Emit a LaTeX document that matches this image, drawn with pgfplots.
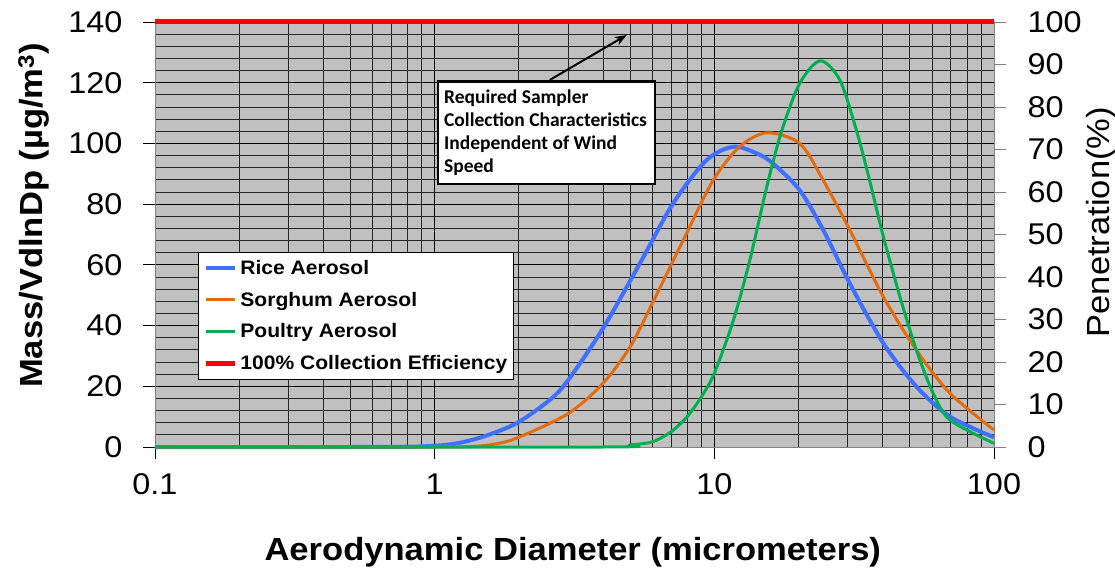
\documentclass[border=0pt]{standalone}
\usepackage{fontspec}
\setmainfont{Liberation Sans}[FakeStretch=1.08]
\newfontfamily\calibri{Carlito}
\usepackage{pgfplots}
\pgfplotsset{compat=1.18}
\usetikzlibrary{arrows.meta}

\definecolor{bggray}{RGB}{192,192,192}
\definecolor{riceblue}{RGB}{64,112,255}
\definecolor{sorgorange}{RGB}{228,108,10}
\definecolor{poulgreen}{RGB}{0,176,80}

\begin{document}
\begin{tikzpicture}
\path[use as bounding box] (-155pt,-120pt) rectangle (960pt,447pt);

\begin{axis}[
    at={(0pt,0pt)}, anchor=south west,
    scale only axis, width=839pt, height=425pt,
    xmode=log, xmin=0.1, xmax=100,
    ymin=0, ymax=140,
    xtick={0.1,1,10,100}, xticklabels={0.1,1,10,100},
    minor xtick={0.2,0.3,0.4,0.5,0.6,0.7,0.8,0.9,2,3,4,5,6,7,8,9,20,30,40,50,60,70,80,90},
    ytick={0,20,...,140},
    minor ytick={0,4,...,140},
    xtick pos=bottom, ytick pos=left,
    tick align=outside,
    major tick length=12pt, minor tick length=0pt,
    tick style={black, line width=0.8pt},
    grid=both,
    major grid style={black, line width=0.9pt},
    minor grid style={black!85, line width=0.8pt},
    axis background/.style={fill=bggray},
    axis line style={gray, line width=0.8pt},
    clip=false,
    /pgf/number format/assume math mode=true,
    ticklabel style={font=\fontsize{30}{32}\selectfont},
    xticklabel style={yshift=-11pt},
    yticklabel style={xshift=-17pt},
    xlabel={Aerodynamic Diameter (micrometers)},
    ylabel={Mass/VdlnDp (µg/m\textsuperscript{3})},
    label style={font=\bfseries\fontsize{32}{34}\selectfont},
    xlabel style={at={(axis description cs:0.498,-0.266)}, anchor=base},
    ylabel style={at={(axis description cs:-0.1335,0.545)}, anchor=base},
    legend image code/.code={\draw[#1] (0pt,0pt) -- (29pt,0pt);},
    legend style={
        at={(axis description cs:0.0513,0.4588)}, anchor=north west,
        draw=black, line width=0.8pt, fill=white,
        inner xsep=5pt, inner ysep=7pt,
        row sep=14pt, column sep=2pt,
        nodes={inner sep=1pt},
        font=\bfseries\fontsize{19.5}{21}\selectfont,
        cells={anchor=west},
    },
]

\addplot[riceblue, line width=4pt, smooth] coordinates {
    (0.1,0) (0.5,0) (0.8,0.1) (1.0,0.4) (1.2,1.2) (1.49,3.4) (1.96,7.8)
    (2.58,15.5) (3,22.0) (4,39.1) (5.42,60.5) (7.13,80.3)
    (9.38,94.5) (11.7,98.9) (14.2,96.7) (16.2,93.4) (20.2,84.6) (24.5,71.5)
    (30.5,53.9) (40.2,34.2) (52.8,19.9) (69.6,10.0) (100,3.2)
};
\addlegendentry{Rice Aerosol}

\addplot[sorgorange, line width=3pt, smooth] coordinates {
    (0.1,0) (1.0,0) (1.3,0.1) (1.6,0.8) (1.96,2.9) (3,11.0) (4,21.0)
    (5,33.0) (6,47.3) (7.96,70.4) (9.91,87.9) (12.3,98.9)
    (15.4,103.5) (20.2,100.0) (24.5,87.9) (30.5,71.5) (40.2,49.5) (52.8,31.9)
    (69.6,17.7) (100,5.6)
};
\addlegendentry{Sorghum Aerosol}

\addplot[poulgreen, line width=3pt, smooth] coordinates {
    (0.1,0) (4.0,0) (5,0.7) (6,1.7) (7,5.0) (8,10.0) (9,16.6) (10,24.3)
    (11.7,41.8) (13.4,61.6) (15.4,85.7) (17.4,104.0) (20.2,119.8)
    (23.9,127.2) (28.1,120.9) (32.2,104.4) (35.9,87.9) (40.2,69.3) (46.1,49.5)
    (52.8,31.9) (60.6,17.7) (69.6,8.9) (100,1.2)
};
\addlegendentry{Poultry Aerosol}

\addplot[red, line width=5pt] coordinates {(0.1,140) (100,140)};
\addlegendentry{100\% Collection Efficiency}

\draw[black, line width=2pt, -{Stealth[length=12pt,width=9pt]}]
    (axis cs:2.58,120.9) -- (axis cs:4.86,135.7);
\node[draw=black, line width=2.5pt, fill=white, anchor=north west,
      align=flush left, text width=205pt, inner xsep=6pt, inner ysep=9pt,
      font=\calibri\bfseries\fontsize{19.5}{22.7}\selectfont]
    at (axis description cs:0.336,0.8635)
    {Required Sampler\\Collection Characteristics\\Independent of Wind\\Speed};
\end{axis}

\begin{axis}[
    at={(0pt,0pt)}, anchor=south west,
    scale only axis, width=839pt, height=425pt,
    xmode=log, xmin=0.1, xmax=100,
    ymin=0, ymax=100,
    axis x line=none, axis y line*=right,
    ytick={0,10,...,100},
    tick align=outside, major tick length=12pt,
    tick style={gray, line width=0.8pt},
    axis line style={gray, line width=0.8pt},
    /pgf/number format/assume math mode=true,
    ticklabel style={font=\fontsize{30}{32}\selectfont},
    yticklabel style={xshift=18pt},
    ylabel={Penetration(\%)},
    ylabel style={at={(axis description cs:1.1375,0.529)}, anchor=base,
                  rotate=0, font=\fontsize{32}{34}\selectfont},
]
\end{axis}
\end{tikzpicture}
\end{document}
